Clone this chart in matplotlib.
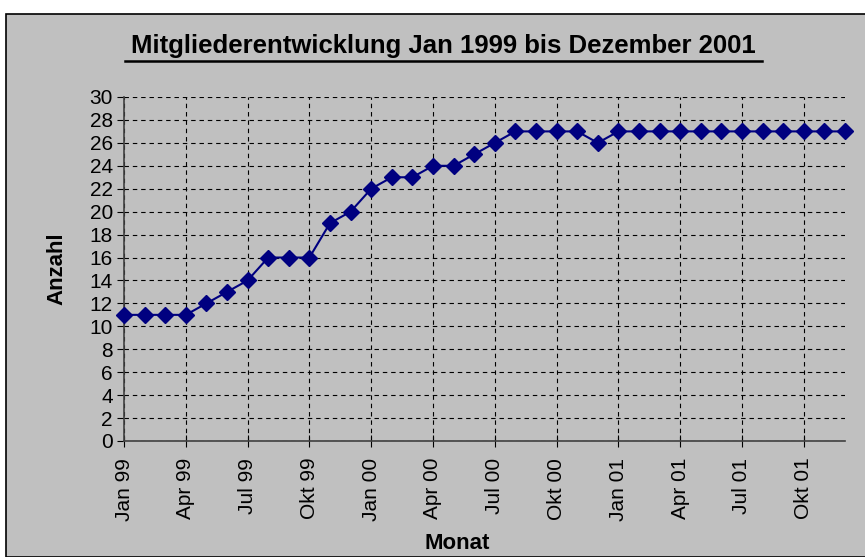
import matplotlib.pyplot as plt
from matplotlib.patches import Rectangle

plt.rcParams["font.family"] = ["Liberation Sans", "DejaVu Sans"]

monate = ["Jan 99", "Feb 99", "Mrz 99", "Apr 99", "Mai 99", "Jun 99", "Jul 99", "Aug 99", "Sep 99",
          "Okt 99", "Nov 99", "Dez 99", "Jan 00", "Feb 00", "Mrz 00", "Apr 00", "Mai 00", "Jun 00",
          "Jul 00", "Aug 00", "Sep 00", "Okt 00", "Nov 00", "Dez 00", "Jan 01", "Feb 01", "Mrz 01",
          "Apr 01", "Mai 01", "Jun 01", "Jul 01", "Aug 01", "Sep 01", "Okt 01", "Nov 01", "Dez 01"]
anzahl = [11, 11, 11, 11, 12, 13, 14, 16, 16, 16, 19, 20, 22, 23, 23, 24, 24, 25,
          26, 27, 27, 27, 27, 26, 27, 27, 27, 27, 27, 27, 27, 27, 27, 27, 27, 27]
y_ticks = list(range(0, 31, 2))

fig = plt.figure(figsize=(8.65, 5.57), dpi=100)
fig.patch.set_facecolor("white")
# grauer Diagrammbereich mit Rahmen
fig.patches.append(Rectangle((6 / 865, 0), 1, 1 - 14 / 557, transform=fig.transFigure,
                             facecolor="#C0C0C0", edgecolor="black", linewidth=1.2, zorder=-5))

ax = fig.add_axes([124 / 865, 116 / 557, 721 / 865, 344 / 557])
ax.set_facecolor("#C0C0C0")

x = list(range(len(monate)))
ax.plot(x, anzahl, color="#000080", linewidth=1.5, marker="D", markersize=8.5,
        markerfacecolor="#000080", markeredgecolor="#000080", zorder=3, clip_on=False)

ax.set_xlim(0, len(monate) - 1)
ax.set_ylim(0, 30)
ax.set_yticks(y_ticks)
ax.set_xticks(x[::3])
ax.set_xticklabels(monate[::3], rotation=90)
ax.tick_params(axis="y", direction="out", length=5, labelsize=15, pad=3)
ax.tick_params(axis="x", direction="inout", length=8, labelsize=15, pad=8)

ax.grid(True, color="black", linestyle=(0, (4, 3.5)), linewidth=0.8)
for s in ["top", "right"]:
    ax.spines[s].set_visible(False)
for s in ["left", "bottom"]:
    ax.spines[s].set_color("#404040")
    ax.spines[s].set_linewidth(1.2)

ax.set_ylabel("Anzahl", fontsize=16, fontweight="bold", labelpad=16)
ax.set_xlabel("Monat", fontsize=16, fontweight="bold")
ax.xaxis.set_label_coords(0.462, -0.268)

fig.text(443 / 865, 1 - 46 / 557, "Mitgliederentwicklung Jan 1999 bis Dezember 2001",
         fontsize=18.5, fontweight="bold", ha="center", va="center")
# Unterstreichung des Titels
fig.add_artist(plt.Line2D([125 / 865, 762 / 865], [1 - 61 / 557, 1 - 61 / 557],
                          transform=fig.transFigure, color="black", linewidth=1.8))

fig.savefig("out.png", dpi=100)
